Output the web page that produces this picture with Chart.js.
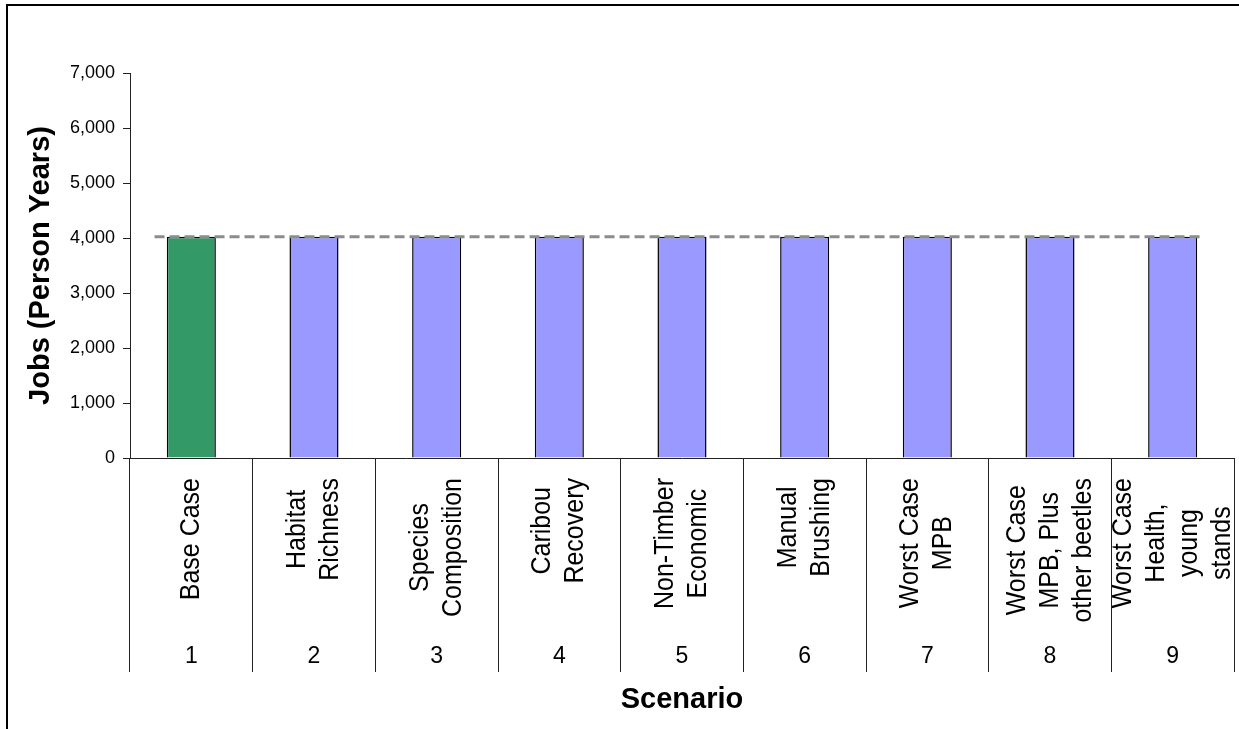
<!DOCTYPE html>
<html>
<head>
<meta charset="utf-8">
<script src="https://cdn.jsdelivr.net/npm/chart.js@4/dist/chart.umd.min.js"></script>
<style>
  html, body { margin: 0; padding: 0; background: #fff; }
  #wrap { width: 1239px; height: 729px; }
</style>
</head>
<body>
<div id="wrap"><canvas id="c" width="1239" height="729"></canvas></div>
<script>
// ---- data ----
const scenarioNumbers = ['1', '2', '3', '4', '5', '6', '7', '8', '9'];
const scenarioNames = [
  ['Base Case'],
  ['Habitat', 'Richness'],
  ['Species', 'Composition'],
  ['Caribou', 'Recovery'],
  ['Non-Timber', 'Economic'],
  ['Manual', 'Brushing'],
  ['Worst Case', 'MPB'],
  ['Worst Case', 'MPB, Plus', 'other beetles'],
  ['Worst Case', 'Health,', 'young', 'stands']
];
const jobsPersonYears = [4025, 4025, 4025, 4025, 4025, 4025, 4025, 4025, 4025];
const baseCaseLevel = jobsPersonYears[0];
const yMin = 0, yMax = 7000, yStep = 1000;
const yTitle = 'Jobs (Person Years)';
const xTitle = 'Scenario';

// ---- styling ----
const FONT = "'Liberation Sans', Arial, sans-serif";
const green = '#339966';
const blue = '#9999ff';
const refSpan = [0.2, 8.75]; // extent of the dashed reference line on the hidden helper axis

const frame = {
  id: 'frame',
  beforeDraw(chart) {
    const ctx = chart.ctx;
    ctx.save();
    ctx.strokeStyle = '#000';
    ctx.lineWidth = 2;
    ctx.strokeRect(7, 5, chart.width + 20, chart.height + 20);
    ctx.restore();
  }
};

const categoryText = {
  id: 'categoryText',
  afterDraw(chart) {
    const ctx = chart.ctx;
    const xs = chart.scales.x;
    const top = chart.chartArea.bottom + 20;
    const spacing = 30;
    const stretch = 1.1;
    ctx.save();
    ctx.font = '25px ' + FONT;
    ctx.fillStyle = '#000';
    ctx.textAlign = 'center';
    ctx.textBaseline = 'middle';
    scenarioNames.forEach((lines, i) => {
      const cx = xs.getPixelForValue(i);
      const maxW = Math.max(...lines.map(l => ctx.measureText(l).width));
      const cy = top + maxW / 2;
      ctx.save();
      ctx.translate(cx, cy);
      ctx.scale(stretch, 1);
      ctx.rotate(-Math.PI / 2);
      lines.forEach((l, j) => {
        ctx.fillText(l, 0, (j - (lines.length - 1) / 2) * spacing);
      });
      ctx.restore();
    });
    ctx.restore();
  }
};

new Chart(document.getElementById('c'), {
  data: {
    labels: scenarioNumbers,
    datasets: [
      {
        type: 'line',
        xAxisID: 'xRef',
        data: refSpan.map(x => ({ x: x, y: baseCaseLevel })),
        borderColor: '#8c8c8c',
        borderWidth: 3,
        borderDash: [10, 5],
        pointRadius: 0,
        fill: false,
        order: 0
      },
      {
        type: 'bar',
        xAxisID: 'x',
        data: jobsPersonYears,
        backgroundColor: jobsPersonYears.map((_, i) => i === 0 ? green : blue),
        borderColor: '#000',
        borderWidth: 1.5,
        borderSkipped: 'start',
        barPercentage: 0.4,
        categoryPercentage: 1.0,
        grouped: false,
        order: 1
      }
    ]
  },
  options: {
    responsive: false,
    animation: false,
    events: [],
    layout: { padding: { left: 8, top: 73, right: 5, bottom: 0 } },
    plugins: { legend: { display: false }, tooltip: { enabled: false } },
    scales: {
      x: {
        type: 'category',
        position: 'bottom',
        offset: true,
        grid: {
          offset: true,
          drawOnChartArea: false,
          drawTicks: true,
          tickLength: 214,
          color: '#222',
          lineWidth: 1
        },
        border: { display: true, color: '#222', width: 1 },
        ticks: {
          font: { family: FONT, size: 23 },
          color: '#000',
          padding: -29,
          maxRotation: 0,
          autoSkip: false
        },
        title: {
          display: true,
          text: xTitle,
          font: { family: FONT, size: 29, weight: 'bold' },
          color: '#000',
          padding: { top: 0, bottom: 12 }
        },
        afterFit(scale) { scale.height = 271; }
      },
      xRef: {
        type: 'linear',
        display: false,
        min: 0,
        max: 9
      },
      y: {
        type: 'linear',
        position: 'left',
        min: yMin,
        max: yMax,
        grid: {
          drawOnChartArea: false,
          drawTicks: true,
          tickLength: 7,
          color: '#222'
        },
        border: { display: true, color: '#222', width: 1 },
        ticks: {
          stepSize: yStep,
          font: { family: FONT, size: 18 },
          color: '#000',
          padding: 8,
          callback: v => v.toLocaleString('en-US')
        },
        title: {
          display: true,
          text: yTitle,
          font: { family: FONT, size: 29, weight: 'bold' },
          color: '#000',
          padding: { top: 16, bottom: 0 }
        },
        afterFit(scale) { scale.width = 122; }
      }
    }
  },
  plugins: [frame, categoryText]
});
</script>
</body>
</html>
